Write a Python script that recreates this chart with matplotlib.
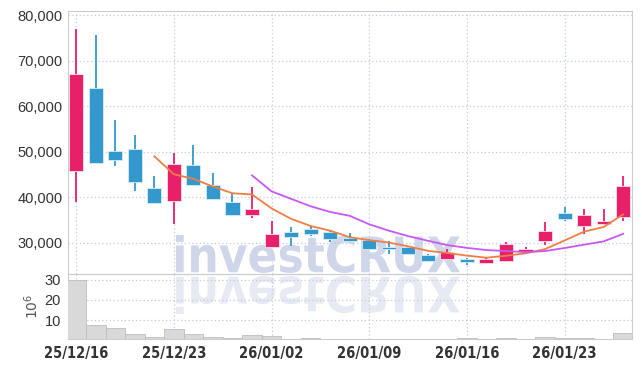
import matplotlib
matplotlib.use("Agg")
import matplotlib.pyplot as plt
import pandas as pd
from matplotlib.textpath import TextPath
from matplotlib.patches import PathPatch
from matplotlib.font_manager import FontProperties
from matplotlib.transforms import Affine2D
from matplotlib.ticker import FuncFormatter, FixedLocator

# trading days (KRX calendar)
dates = ["25/12/16", "25/12/17", "25/12/18", "25/12/19", "25/12/22",
         "25/12/23", "25/12/24", "25/12/26", "25/12/29", "25/12/30",
         "26/01/02", "26/01/05", "26/01/06", "26/01/07", "26/01/08",
         "26/01/09", "26/01/12", "26/01/13", "26/01/14", "26/01/15",
         "26/01/16", "26/01/19", "26/01/20", "26/01/21", "26/01/22",
         "26/01/23", "26/01/26", "26/01/27", "26/01/28"]

opens = [45850, 64000, 50200, 50700, 42100, 39250, 47160, 42630, 38970, 36040,
         29150, 32370, 33100, 32300, 31100, 30550, 29080, 29080, 27390, 26510,
         26510, 25630, 26070, 27980, 30460, 36480, 33690, 34130, 35740]
highs = [76900, 75600, 57000, 53800, 44700, 49650, 51560, 45400, 41000, 42200,
         34700, 33540, 33760, 32500, 32220, 30830, 30300, 29300, 27600, 28570,
         26600, 26800, 30180, 29000, 34570, 37940, 37360, 37360, 44680]
lows = [39000, 47500, 46900, 41400, 38450, 34050, 42500, 39560, 36000, 35450,
        29100, 29300, 31560, 30240, 30100, 28600, 27620, 27550, 25900, 26400,
        25050, 25340, 25780, 27690, 29440, 34730, 31930, 34000, 34730]
closes = [67100, 47600, 48200, 43400, 38800, 47300, 42630, 39700, 36040, 37500,
          31940, 31200, 31870, 30830, 30390, 28640, 28640, 27620, 25930, 27980,
          25780, 26370, 29730, 28570, 32660, 35300, 36040, 34860, 42480]
volume = [29.7, 7.5, 6.0, 3.0, 1.5, 5.5, 3.0, 1.5, 0.9, 2.5,
          2.0, 0.5, 1.2, 0.4, 0.4, 0.4, 0.4, 0.4, 0.4, 0.4,
          1.2, 0.4, 1.0, 0.4, 1.5, 1.0, 1.0, 0.4, 3.7]

label_idx = [0, 5, 10, 15, 20, 25]

up_col = "#e8206a"
down_col = "#3399cc"
grid_col = "#c5cbe0"
spine_col = "#cccccc"

close_s = pd.Series(closes)
ma5 = close_s.rolling(5).mean()
ma10 = close_s.rolling(10).mean()
x = list(range(len(dates)))

plt.rcParams["font.family"] = ["Liberation Sans", "DejaVu Sans"]
cond = FontProperties(family="DejaVu Sans", stretch="condensed", weight="bold", size=10.5)

fig = plt.figure(figsize=(6.42, 3.68), dpi=100, facecolor="white")
ax = fig.add_axes([68 / 642, 1 - 274 / 368, 564 / 642, 263 / 368])
ax2 = fig.add_axes([68 / 642, 1 - 339 / 368, 564 / 642, 65 / 368], sharex=ax)
for a in (ax, ax2):
    a.set_facecolor("none")
    for s in a.spines.values():
        s.set_color(spine_col)
    a.grid(True, color=grid_col, linestyle=(0, (1, 2)), linewidth=0.9)
    a.set_axisbelow(True)
    a.tick_params(length=0, colors="#333333", labelsize=10.5)

# candles
for i in x:
    up = closes[i] >= opens[i]
    c = up_col if up else down_col
    ax.vlines(i, lows[i], highs[i], color=c, linewidth=1.3, zorder=3)
    lo = min(opens[i], closes[i])
    h = max(abs(closes[i] - opens[i]), 150)
    ax.bar(i, h, bottom=lo, width=0.72, color=c, edgecolor="#fbe3ec" if up else "#d9ecf6",
           linewidth=0.6, zorder=4)

ax.plot(x, ma5, color="#ee7e45", linewidth=1.3, zorder=5)
ax.plot(x, ma10, color="#c858f0", linewidth=1.3, zorder=5)

ax.set_ylim(23150, 80950)
ax.set_xlim(-0.42, 28.45)
ax.yaxis.set_major_locator(FixedLocator([30000, 40000, 50000, 60000, 70000, 80000]))
ax.yaxis.set_major_formatter(FuncFormatter(lambda v, p: f"{v:,.0f}"))
ax.tick_params(axis="y", pad=4)
ax.tick_params(axis="x", labelbottom=False)
ax.set_xticks(label_idx)

# volume
ax2.bar(x, volume, width=1.0, color="#d9d9d9", edgecolor="#bdbdbd", linewidth=0.6, zorder=3)
ax2.set_ylim(0.57, 32.9)
ax2.set_yticks([10, 20, 30])
ax2.set_xticks(label_idx)
ax2.set_xticklabels([dates[i] for i in label_idx])
for lab in ax2.get_xticklabels():
    lab.set_fontproperties(cond)
ax2.tick_params(axis="x", pad=5)
ax2.tick_params(axis="y", pad=5)
ax2.set_ylabel(r"$10^6$", color="#555555", fontsize=10, family="DejaVu Sans")
ax2.yaxis.set_label_coords(-27 / 564, 0.5)

# watermark with reflection
tp = TextPath((0, 0), "investCRUX", size=1, prop=FontProperties(family="DejaVu Sans", weight="bold"))
bb = tp.get_extents()
sx = 284 / bb.width
sy = 38 / bb.height
base = Affine2D().translate(-bb.x0, -bb.y0)
t_main = base + Affine2D().scale(sx, sy).translate(176, 368 - 273)
t_refl = base + Affine2D().scale(sx, -sy).translate(176, 368 - 276)
fig.add_artist(PathPatch(tp, transform=t_main, facecolor="#d0d6e9", edgecolor="none", zorder=-1))
fig.add_artist(PathPatch(tp, transform=t_refl, facecolor="#e7eaf3", edgecolor="none", zorder=-1))

fig.savefig("out.png", dpi=100, facecolor="white")
